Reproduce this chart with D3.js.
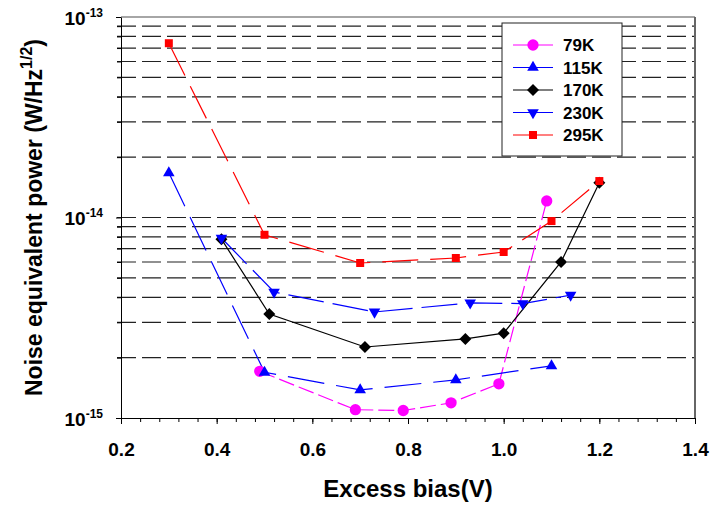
<!DOCTYPE html>
<html>
<head>
<meta charset="utf-8">
<script src="https://cdn.jsdelivr.net/npm/d3@7"></script>
<style>
  body { margin: 0; background: #fff; }
  svg { font-family: "Liberation Sans", Arial, sans-serif; }
</style>
</head>
<body>
<div id="chart"></div>
<script>
// data
const seriesNames = ["79K", "115K", "170K", "230K", "295K"];
const bias79 = [0.49, 0.69, 0.79, 0.89, 0.99, 1.09];
const nep79 = [1.71e-15, 1.10e-15, 1.09e-15, 1.19e-15, 1.48e-15, 1.21e-14];
const bias115 = [0.3, 0.5, 0.7, 0.9, 1.1];
const nep115 = [1.67e-14, 1.69e-15, 1.38e-15, 1.55e-15, 1.82e-15];
const bias170 = [0.41, 0.51, 0.71, 0.92, 1.0, 1.12, 1.2];
const nep170 = [7.8e-15, 3.3e-15, 2.26e-15, 2.48e-15, 2.65e-15, 6.0e-15, 1.49e-14];
const bias230 = [0.41, 0.52, 0.73, 0.93, 1.04, 1.14];
const nep230 = [7.9e-15, 4.25e-15, 3.38e-15, 3.75e-15, 3.72e-15, 4.1e-15];
const bias295 = [0.3, 0.5, 0.7, 0.9, 1.0, 1.1, 1.2];
const nep295 = [7.4e-14, 8.2e-15, 5.93e-15, 6.28e-15, 6.73e-15, 9.6e-15, 1.52e-14];
const xTicks = [0.2, 0.4, 0.6, 0.8, 1.0, 1.2, 1.4];
const yTicks = [1e-15, 1e-14, 1e-13];

const W = 712, H = 508;
const margin = { top: 17, right: 17, bottom: 90, left: 121 };
const width = W - margin.left - margin.right;
const height = H - margin.top - margin.bottom;

const series = [
  { name: seriesNames[0], x: bias79, y: nep79, color: "#ff00ff", dash: "16,5", sym: "circle" },
  { name: seriesNames[1], x: bias115, y: nep115, color: "#0000ff", dash: "37,12", sym: "up" },
  { name: seriesNames[2], x: bias170, y: nep170, color: "#000000", dash: null, sym: "diamond" },
  { name: seriesNames[3], x: bias230, y: nep230, color: "#0000ff", dash: "36,9", sym: "down" },
  { name: seriesNames[4], x: bias295, y: nep295, color: "#ff0000", dash: "36,12", sym: "square" }
];

const svg = d3.select("#chart")
  .append("svg")
  .attr("width", W)
  .attr("height", H);

const g = svg.append("g")
  .attr("transform", `translate(${margin.left},${margin.top})`);

const x = d3.scaleLinear().domain([0.2, 1.4]).range([0, width]);
const y = d3.scaleLog().domain([1e-15, 1e-13]).range([height, 0]);

// horizontal dashed grid on every minor value
const gridVals = y.ticks().filter(v => v > 1e-15 * 1.01 && v < 1e-13 * 0.99);
g.append("g")
  .selectAll("line")
  .data(gridVals)
  .enter()
  .append("line")
  .attr("x1", -4)
  .attr("x2", width)
  .attr("y1", d => y(d))
  .attr("y2", d => y(d))
  .attr("stroke", "#222")
  .attr("stroke-width", 1.2)
  .attr("stroke-dasharray", "19,6");

// frame (top and right)
g.append("line")
  .attr("x1", 0).attr("x2", width).attr("y1", 0).attr("y2", 0)
  .attr("stroke", "#888").attr("stroke-width", 1.5);
g.append("line")
  .attr("x1", width).attr("x2", width).attr("y1", 0).attr("y2", height)
  .attr("stroke", "#666").attr("stroke-width", 2);

// x axis: minor ticks then major ticks with labels
const xMinor = d3.range(0, 31).map(i => 0.2 + i * 0.04);
g.append("g")
  .attr("transform", `translate(0,${height})`)
  .call(d3.axisBottom(x).tickValues(xMinor).tickSize(4).tickFormat(""))
  .call(a => a.select(".domain").remove());

const xAxis = g.append("g")
  .attr("transform", `translate(0,${height})`)
  .call(d3.axisBottom(x).tickValues(xTicks).tickSize(6).tickSizeOuter(0).tickFormat(d3.format(".1f")));
xAxis.select(".domain").attr("stroke", "#000");
xAxis.selectAll("text")
  .attr("dy", 0)
  .attr("y", 38)
  .style("font-size", "19px")
  .style("font-weight", "bold")
  .attr("fill", "#000");

// y axis
const yMinorVals = y.ticks().filter(v => !yTicks.some(t => Math.abs(v / t - 1) < 1e-6));
g.append("g")
  .call(d3.axisLeft(y).tickValues(yMinorVals).tickSize(4).tickFormat(""))
  .call(a => a.select(".domain").remove());

const yAxis = g.append("g")
  .call(d3.axisLeft(y).tickValues(yTicks).tickSize(5).tickSizeOuter(0).tickFormat(""));
yAxis.select(".domain").attr("stroke", "#000");

yAxis.selectAll(".tick")
  .append("text")
  .attr("x", -18)
  .attr("y", 7)
  .attr("text-anchor", "end")
  .attr("fill", "#000")
  .style("font-weight", "bold")
  .each(function(d) {
    const t = d3.select(this);
    t.append("tspan").style("font-size", "19px").text("10");
    t.append("tspan").style("font-size", "12px").attr("dy", -8)
      .text(String(Math.round(Math.log10(d))).replace("-", "-"));
  });

// series lines and markers
const line = d3.line().x(d => x(d[0])).y(d => y(d[1]));

const symbolFor = (s) => {
  if (s === "circle") return d3.symbol().type(d3.symbolCircle).size(100)();
  if (s === "square") return d3.symbol().type(d3.symbolSquare).size(64)();
  if (s === "diamond") return d3.symbol().type(d3.symbolSquare).size(72)();
  return d3.symbol().type(d3.symbolTriangle).size(58)();
};
const rotFor = (s) => (s === "diamond" ? 45 : s === "down" ? 180 : 0);

series.forEach(s => {
  const pts = s.x.map((v, i) => [v, s.y[i]]);
  g.append("path")
    .datum(pts)
    .attr("d", line)
    .attr("fill", "none")
    .attr("stroke", s.color)
    .attr("stroke-width", 1.2)
    .attr("stroke-dasharray", s.dash);
});

series.forEach(s => {
  const pts = s.x.map((v, i) => [v, s.y[i]]);
  g.append("g")
    .selectAll("path")
    .data(pts)
    .enter()
    .append("path")
    .attr("d", symbolFor(s.sym))
    .attr("transform", d => `translate(${x(d[0])},${y(d[1])}) rotate(${rotFor(s.sym)})`)
    .attr("fill", s.color);
});

// axis titles
svg.append("text")
  .attr("x", margin.left + width / 2)
  .attr("y", 497)
  .attr("text-anchor", "middle")
  .style("font-size", "24px")
  .style("font-weight", "bold")
  .text("Excess bias(V)");

const yTitle = svg.append("text")
  .attr("transform", `translate(42,${margin.top + height / 2}) rotate(-90)`)
  .attr("text-anchor", "middle")
  .style("font-size", "23px")
  .style("font-weight", "bold");
yTitle.append("tspan").text("Noise equivalent power (W/Hz");
yTitle.append("tspan").attr("dy", -10).style("font-size", "16px").text("1/2");
yTitle.append("tspan").attr("dy", 10).text(")");

// legend
const legend = svg.append("g").attr("transform", "translate(502,23)");
legend.append("rect")
  .attr("width", 120)
  .attr("height", 133)
  .attr("fill", "#fff")
  .attr("stroke", "#222")
  .attr("stroke-width", 1);

series.forEach((s, i) => {
  const row = legend.append("g").attr("transform", `translate(0,${22 + i * 22.5})`);
  row.append("line")
    .attr("x1", 11).attr("x2", 51)
    .attr("y1", 0).attr("y2", 0)
    .attr("stroke", s.color)
    .attr("stroke-width", 1.2);
  row.append("path")
    .attr("d", symbolFor(s.sym))
    .attr("transform", `translate(31,0) rotate(${rotFor(s.sym)})`)
    .attr("fill", s.color);
  row.append("text")
    .attr("x", 61)
    .attr("y", 6)
    .style("font-size", "17px")
    .style("font-weight", "bold")
    .text(s.name);
});
</script>
</body>
</html>
